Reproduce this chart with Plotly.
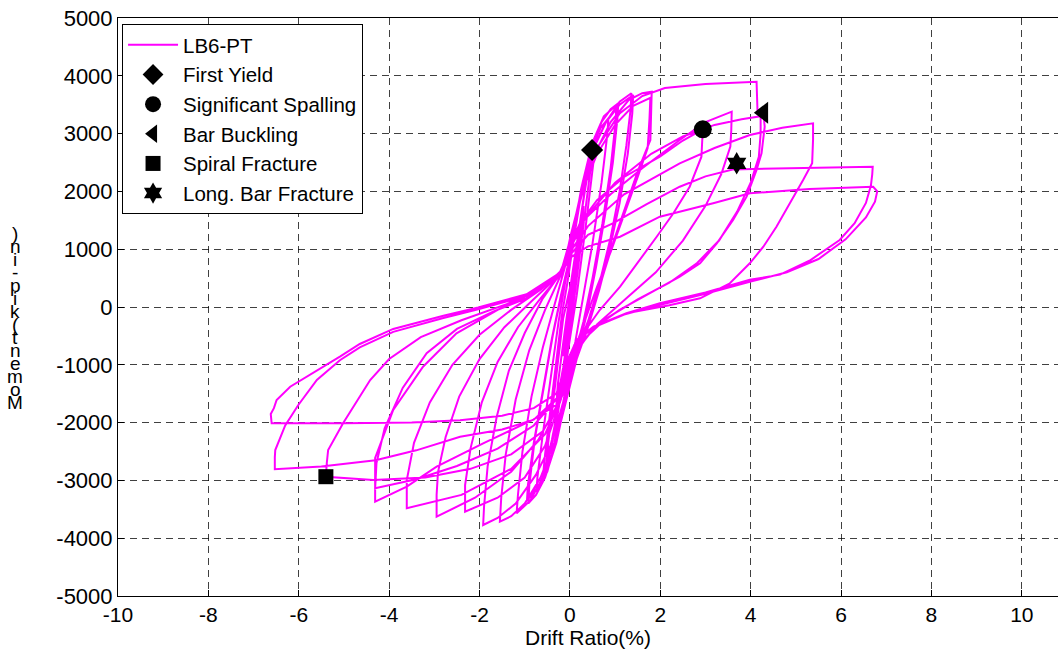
import plotly.graph_objects as go

# ---- hysteresis data: (drift %, moment kip-in) ----
loop01 = [(0.0, 0), (0.07, 450), (0.15, 900), (0.12, 650), (0.04, 150),
          (-0.05, -350), (-0.15, -850), (-0.12, -600), (-0.03, -100)]
loop02 = [(0.05, 350), (0.18, 1150), (0.3, 1750), (0.27, 1400), (0.14, 550), (0.0, -250),
          (-0.15, -1050), (-0.3, -1700), (-0.27, -1350), (-0.12, -450)]
loop03 = [(0.0, 250), (0.18, 1250), (0.35, 2100), (0.49, 2716), (0.45, 2350), (0.3, 1400), (0.12, 300),
          (-0.05, -650), (-0.25, -1700), (-0.4, -2300), (-0.52, -2700), (-0.48, -2350), (-0.32, -1350), (-0.15, -200)]
loop04 = [(0.02, 400), (0.22, 1500), (0.4, 2400), (0.56, 2850), (0.52, 2500), (0.35, 1400), (0.15, 200),
          (-0.05, -800), (-0.28, -1900), (-0.45, -2550), (-0.6, -2950), (-0.55, -2550), (-0.38, -1450),
          (-0.18, -150), (-0.05, 450)]
loop05 = [(0.1, 1250), (0.28, 2100), (0.48, 2750), (0.68, 3100), (0.85, 3264), (0.83, 3000), (0.7, 2150),
          (0.5, 1100), (0.3, 200), (0.12, -600), (-0.1, -1450), (-0.3, -2250), (-0.5, -2850), (-0.74, -3195),
          (-0.72, -2950), (-0.6, -2200), (-0.42, -1200), (-0.25, -250), (-0.1, 450)]
loop06 = [(0.08, 1300), (0.25, 2050), (0.45, 2700), (0.7, 3200), (0.9, 3420), (1.07, 3524), (1.05, 3250),
          (0.95, 2500), (0.78, 1600), (0.58, 700), (0.38, -100), (0.15, -800), (-0.08, -1550), (-0.3, -2350),
          (-0.55, -2950), (-0.75, -3250), (-0.92, -3397), (-0.9, -3100), (-0.78, -2300), (-0.58, -1400),
          (-0.38, -500), (-0.18, 250), (-0.05, 700)]
loop07 = [(0.1, 1350), (0.28, 2150), (0.5, 2850), (0.75, 3300), (1.03, 3495), (1.01, 3200), (0.9, 2400),
          (0.72, 1450), (0.5, 500), (0.3, -250), (0.08, -900), (-0.12, -1650), (-0.35, -2450), (-0.6, -3000),
          (-0.95, -3350), (-0.93, -3080), (-0.8, -2350), (-0.6, -1450), (-0.4, -550), (-0.2, 200), (-0.05, 700)]
loop08 = [(0.1, 1350), (0.3, 2150), (0.55, 2800), (0.8, 3200), (1.1, 3500), (1.40, 3668), (1.38, 3350),
          (1.28, 2650), (1.1, 1800), (0.88, 1000), (0.65, 300), (0.4, -350), (0.15, -900), (-0.1, -1650),
          (-0.35, -2450), (-0.6, -2950), (-0.88, -3350), (-1.18, -3570), (-1.15, -3250), (-1.05, -2500),
          (-0.85, -1550), (-0.6, -700), (-0.35, 0), (-0.15, 550)]
loop09 = [(0.05, 1150), (0.25, 2000), (0.5, 2700), (0.8, 3200), (1.1, 3550), (1.36, 3697), (1.34, 3400),
          (1.25, 2800), (1.1, 2000), (0.9, 1200), (0.65, 400), (0.4, -250), (0.15, -850), (-0.1, -1600),
          (-0.35, -2350), (-0.65, -2950), (-1.0, -3400), (-1.3, -3620), (-1.55, -3714), (-1.52, -3300),
          (-1.42, -2550), (-1.2, -1600), (-0.9, -750), (-0.55, -50), (-0.25, 450), (-0.15, 640)]
loop10 = [(0.05, 1300), (0.25, 2000), (0.55, 2650), (0.9, 3200), (1.3, 3580), (1.6, 3700), (1.81, 3725),
          (1.79, 3300), (1.78, 2890), (1.51, 2370), (1.25, 1794), (1.0, 1216), (0.77, 640), (0.55, 64),
          (0.3, -450), (0.05, -950), (-0.15, -1650), (-0.4, -2350), (-0.75, -2900), (-1.2, -3400),
          (-1.6, -3650), (-1.92, -3772), (-1.9, -3450), (-1.82, -2750), (-1.62, -1900), (-1.35, -1100),
          (-1.0, -450), (-0.6, 150), (-0.3, 480), (-0.15, 640)]
loop11 = [(0.02, 1250), (0.25, 1950), (0.6, 2650), (1.0, 3150), (1.4, 3480), (1.78, 3620), (1.76, 3250),
          (1.72, 2750), (1.5, 2250), (1.2, 1600), (0.9, 950), (0.6, 350), (0.3, -300), (0.05, -850),
          (-0.2, -1600), (-0.55, -2400), (-1.0, -2950), (-1.6, -3300), (-2.32, -3541), (-2.32, -3080),
          (-2.2, -2450), (-1.95, -1650), (-1.6, -950), (-1.15, -350), (-0.65, 150), (-0.3, 480), (-0.15, 620)]
loop12 = [(0.05, 1150), (0.22, 1450), (0.6, 1850), (1.2, 2250), (1.99, 2600), (2.5, 2880), (2.94, 3075),
          (2.93, 2800), (2.91, 2600), (2.65, 2081), (2.29, 1621), (1.92, 1216), (1.55, 813), (1.11, 351),
          (0.66, -52), (0.3, -450), (0.0, -950), (-0.25, -1650), (-0.7, -2300), (-1.3, -2850), (-2.1, -3300),
          (-2.95, -3628), (-2.95, -3250), (-2.92, -2860), (-2.75, -2250), (-2.45, -1550), (-2.0, -900),
          (-1.45, -350), (-0.85, 100), (-0.4, 430), (-0.18, 620)]
loop13 = [(0.0, 1100), (0.3, 1500), (0.9, 1950), (1.6, 2400), (2.43, 2889), (3.0, 3200), (3.58, 3380),
          (3.57, 3050), (3.55, 2775), (3.35, 2300), (3.0, 1750), (2.5, 1150), (1.9, 600), (1.25, 150),
          (0.6, -300), (0.1, -800), (-0.15, -1500), (-0.55, -2200), (-1.3, -2800), (-2.4, -3250),
          (-3.61, -3483), (-3.61, -2993), (-3.45, -2350), (-3.1, -1650), (-2.6, -1000), (-2.0, -480),
          (-1.3, -50), (-0.65, 300), (-0.2, 600)]
loop14 = [(0.0, 1150), (0.25, 1900), (0.6, 2750), (1.1, 3350), (1.6, 3650), (2.1, 3790), (3.0, 3860),
          (3.6, 3880), (4.13, 3898), (4.14, 3650), (4.15, 3408), (4.28, 3362), (4.31, 3120), (4.24, 2660),
          (4.13, 2370), (3.91, 1909), (3.61, 1505), (3.25, 1102), (2.88, 756), (2.43, 524), (1.8, 250),
          (1.1, -50), (0.5, -380), (0.05, -880), (-0.22, -1650), (-0.81, -1950), (-1.92, -2358),
          (-2.95, -2763), (-3.61, -3109), (-4.31, -3368), (-4.31, -3000), (-4.31, -2612), (-3.91, -1782),
          (-3.25, -1033), (-2.51, -455), (-1.6, -50), (-0.8, 250), (-0.25, 550)]
loop15 = [(0.0, 1000), (0.35, 1550), (1.0, 2150), (1.8, 2650), (2.5, 2950), (3.2, 3150), (3.8, 3250),
          (4.22, 3300), (4.22, 3000), (4.18, 2600), (4.0, 2150), (3.7, 1650), (3.3, 1150), (2.8, 750),
          (2.2, 420), (1.5, 130), (0.8, -200), (0.25, -600), (0.0, -950), (-0.25, -1550), (-0.8, -2050),
          (-1.6, -2450), (-2.5, -2750), (-3.4, -2980), (-4.31, -3137), (-4.3, -2900), (-4.28, -2700),
          (-4.1, -2100), (-3.7, -1400), (-3.17, -800), (-2.5, -380), (-1.7, -80), (-0.96, 150),
          (-0.4, 450), (-0.18, 620)]
loop16 = [(0.0, 950), (0.4, 1400), (1.2, 1950), (2.43, 2486), (3.2, 2750), (3.98, 2976), (4.7, 3100),
          (5.38, 3178), (5.38, 2900), (5.36, 2486), (5.16, 2197), (4.87, 1794), (4.57, 1389), (4.28, 1043),
          (3.98, 756), (3.54, 410), (2.88, 150), (2.2, 30), (1.25, -109), (0.52, -340), (0.15, -571),
          (-0.02, -917), (-0.2, -1600), (-0.6, -2150), (-1.3, -2550), (-2.2, -2800), (-3.2, -2950),
          (-4.35, -2993), (-5.4, -2936), (-5.38, -2700), (-5.35, -2474), (-5.02, -2012), (-4.42, -1263),
          (-4.0, -900), (-3.3, -520), (-2.4, -230), (-1.4, 50), (-0.6, 350), (-0.18, 600)]
loop17 = [(0.0, 900), (0.4, 1250), (0.96, 1450), (1.7, 1780), (2.43, 2081), (3.0, 2260), (3.6, 2380),
          (4.2, 2390), (5.0, 2395), (5.8, 2405), (6.7, 2427), (6.69, 2300), (6.66, 2100), (6.55, 1800),
          (6.3, 1450), (5.97, 1160), (5.3, 800), (4.65, 560), (3.98, 470), (3.0, 250), (1.99, 64),
          (1.25, -109), (0.52, -340), (0.15, -571), (-0.05, -917), (-0.25, -1550), (-0.8, -1950),
          (-1.5, -2120), (-2.43, -2244), (-3.4, -2480), (-4.3, -2650), (-5.5, -2760), (-6.53, -2808),
          (-6.53, -2600), (-6.52, -2474), (-6.3, -2050), (-6.01, -1695), (-5.6, -1263), (-5.09, -920),
          (-4.65, -700), (-3.91, -430), (-2.8, -190), (-2.03, -40), (-0.96, 190), (-0.18, 600)]
loop18 = [(0.0, 850), (0.4, 1050), (1.11, 1216), (1.99, 1562), (3.17, 1794), (3.98, 1967), (5.3, 2040),
          (6.71, 2081), (6.8, 2000), (6.78, 1900), (6.75, 1822), (6.55, 1550), (6.1, 1170), (5.5, 830),
          (4.8, 600), (4.0, 440), (3.0, 230), (2.0, 40), (1.2, -130), (0.5, -360), (0.1, -650),
          (-0.05, -950), (-0.3, -1500), (-0.8, -1750), (-1.5, -1880), (-2.43, -1960), (-3.5, -2000),
          (-5.0, -2010), (-6.6, -2012), (-6.62, -1850), (-6.55, -1750), (-6.49, -1609), (-6.19, -1379),
          (-5.09, -860), (-4.65, -640), (-3.91, -380), (-2.8, -150), (-2.03, -10), (-0.96, 220),
          (-0.3, 550), (-0.1, 700)]

loops = [loop01, loop02, loop03, loop04, loop05, loop06, loop07, loop08, loop09,
         loop10, loop11, loop12, loop13, loop14, loop15, loop16, loop17, loop18]

# damage-state markers (drift %, moment)
event_names = ["First Yield", "Significant Spalling", "Bar Buckling", "Spiral Fracture", "Long. Bar Fracture"]
event_drift = [0.49, 2.94, 4.28, -5.40, 3.69]
event_moment = [2716, 3075, 3362, -2936, 2486]
event_symbols = ["diamond", "circle", "triangle-left", "square", "hexagram"]
event_sizes = [17, 18, 19, 15, 17]

x_ticks = [-10, -8, -6, -4, -2, 0, 2, 4, 6, 8, 10]
x_tick_text = ["-10", "-8", "-6", "-4", "-2", "0", "2", "4", "6", "8", "10"]
y_ticks = [-5000, -4000, -3000, -2000, -1000, 0, 1000, 2000, 3000, 4000, 5000]
y_tick_text = ["-5000", "-4000", "-3000", "-2000", "-1000", "0", "1000", "2000", "3000", "4000", "5000"]
y_label_chars = list(")ni-pik(tnemoM")

drift = []
moment = []
for lp in loops:
    for d, m in lp:
        drift.append(d)
        moment.append(m)

fig = go.Figure()
fig.add_trace(go.Scatter(x=drift, y=moment, mode="lines", name="LB6-PT",
                         line=dict(color="#FF00FF", width=2)))
for nm, dx, my, sym, sz in zip(event_names, event_drift, event_moment, event_symbols, event_sizes):
    fig.add_trace(go.Scatter(x=[dx], y=[my], mode="markers", name=nm,
                             marker=dict(symbol=sym, size=sz, color="black",
                                         line=dict(width=0))))

FONT = "Liberation Sans, Arial, sans-serif"
axis_common = dict(showline=True, linecolor="black", linewidth=1, ticks="inside", ticklen=6,
                   tickcolor="black", showgrid=True, gridcolor="rgba(0,0,0,0.75)", gridwidth=1,
                   griddash="7px,5px", zeroline=False, automargin=False)

fig.update_layout(
    width=1058, height=650,
    margin=dict(l=118, r=0, t=18, b=54),
    paper_bgcolor="white", plot_bgcolor="white",
    font=dict(family=FONT, color="black"),
    xaxis=dict(range=[-10, 10.8], tickvals=x_ticks, ticktext=x_tick_text, mirror=True,
               tickfont=dict(family=FONT, size=21, color="black"),
               title=dict(text="Drift Ratio(%)", font=dict(family=FONT, size=21), standoff=2),
               **axis_common),
    yaxis=dict(range=[-5000, 5000], tickvals=y_ticks, ticktext=y_tick_text, mirror=False,
               tickfont=dict(family=FONT, size=22, color="black"), **axis_common),
    legend=dict(x=0.0043, y=0.9896, xanchor="left", yanchor="top", bgcolor="white",
                bordercolor="black", borderwidth=1, font=dict(family=FONT, size=20.5, color="black"),
                itemwidth=50, tracegroupgap=0),
    showlegend=True,
)

n = len(y_label_chars)
for i, ch in enumerate(y_label_chars):
    py = 233 + i * (402 - 233) / (n - 1)
    fig.add_annotation(text=ch, xref="paper", yref="paper",
                       x=(15 - 118) / 940, y=1 - (py - 18) / 578,
                       showarrow=False, xanchor="center", yanchor="middle",
                       font=dict(family=FONT, size=19, color="black"))

fig.write_html("out.html", config={"displayModeBar": False},
               post_script="document.body.style.margin='0';document.body.style.overflow='hidden';")
